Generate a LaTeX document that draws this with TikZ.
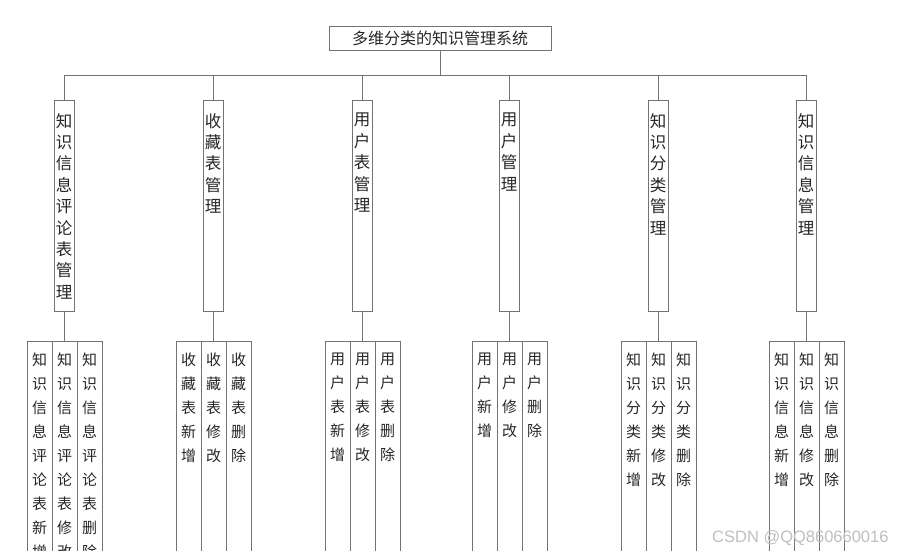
\documentclass[tikz,border=0pt]{standalone}
\usepackage{fontspec}
\setsansfont{Liberation Sans}
\newfontfamily\cjk{Noto Sans CJK SC}

\begin{document}
\begin{tikzpicture}[x=1pt,y=-1pt,
  box/.style={draw=black!55,line width=.8pt,inner sep=0},
  sysbox/.style={box,minimum width=222,minimum height=24,text=black!85,
    font=\cjk\fontsize{16}{16}\selectfont},
  mgrbox/.style={box,anchor=north,minimum width=20,minimum height=211},
  leafbox/.style={box,anchor=north,minimum width=25,minimum height=220},
  mgrtext/.style={anchor=north,align=center,inner sep=0,yshift=-13pt,
    text=black!85,font=\cjk\fontsize{16.5}{21.4}\selectfont},
  leaftext/.style={anchor=north,align=center,inner sep=0,yshift=-12pt,
    text=black!85,font=\cjk\fontsize{15}{24}\selectfont},
  link/.style={draw=black!55,line width=.8pt}]

\useasboundingbox (0,0) rectangle (902,550);
\clip (0,0) rectangle (902,550);

\node[sysbox] (sys) at (440,38) {多维分类的知识管理系统};
\coordinate (bus) at (0,75);

\foreach \i/\x/\pre in {1/64/{知\\识\\信\\息\\评\\论\\表},
                        2/213/{收\\藏\\表},
                        3/362/{用\\户\\表},
                        4/509/{用\\户},
                        5/658/{知\\识\\分\\类},
                        6/806/{知\\识\\信\\息}}{%
    % module box under the bus
    \node[mgrbox] (m\i) at (\x,100) {};
    \node[mgrtext] (t\i) at (m\i.north) {\pre\\管\\理};
    \draw[link] (m\i.north) -- (m\i.north |- bus);
    % three leaves: add, edit, delete
    \node[leafbox] (a\i) at (\x-24.5,341) {};
    \node[leafbox] (b\i) at (\x+.5,341) {};
    \node[leafbox] (c\i) at (\x+25.5,341) {};
    \node[leaftext] (ta\i) at (a\i.north) {\pre\\新\\增};
    \node[leaftext] (tb\i) at (b\i.north) {\pre\\修\\改};
    \node[leaftext] (tc\i) at (c\i.north) {\pre\\删\\除};
    \draw[link] (m\i.south) -- (m\i.south |- b\i.north);
}

\draw[link] (sys.south) -- (sys.south |- bus);
\draw[link] (m1.north |- bus) -- (m6.north |- bus);

\node[anchor=base west,inner sep=0,text=black!25,
  font=\sffamily\fontsize{16.5}{16.5}\selectfont] (mark) at (712,542) {CSDN @QQ860660016};

\end{tikzpicture}
\end{document}
